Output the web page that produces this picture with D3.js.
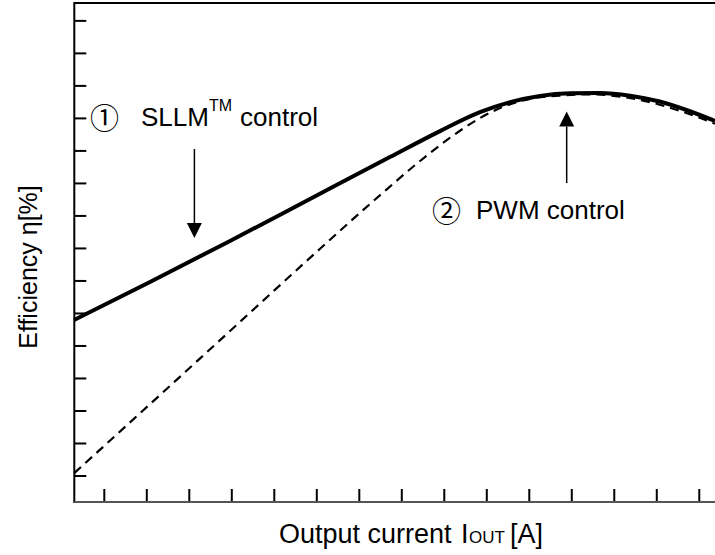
<!DOCTYPE html>
<html>
<head>
<meta charset="utf-8">
<script src="https://cdn.jsdelivr.net/npm/d3@7"></script>
<style>
  html, body { margin: 0; padding: 0; background: #fff; }
  svg { display: block; }
  text { font-family: "Liberation Sans", Arial, Helvetica, sans-serif; fill: #000; }
</style>
</head>
<body>
<svg id="chart" width="715" height="555"></svg>
<script>
// Efficiency curve, SLLM control (solid): output current and efficiency in tick units
const sllmCurrent = [0.294, 2.075, 3.958, 5.84, 7.72, 8.90, 9.84, 10.55, 11.25, 11.96, 12.66, 13.37, 14.07, 14.78, 15.37];
const sllmEfficiency = [5.80, 6.97, 8.23, 9.52, 10.81, 11.61, 12.19, 12.50, 12.69, 12.77, 12.78, 12.70, 12.52, 12.22, 11.92];

// Efficiency curve, PWM control (dashed)
const pwmCurrent = [0.294, 2.075, 3.958, 5.84, 7.49, 8.43, 9.13, 9.84, 10.43, 11.02, 11.72, 12.43, 13.14, 13.84, 14.55, 15.37];
const pwmEfficiency = [1.09, 3.21, 5.46, 7.71, 9.64, 10.69, 11.40, 12.01, 12.38, 12.60, 12.70, 12.74, 12.67, 12.50, 12.23, 11.84];

// Unlabelled tick positions
const xTicks = d3.range(1, 16);
const yTicks = d3.range(1, 16);

// Arrow annotations: [current, tail efficiency, tip efficiency]
const arrowSllm = [3.12, 11.06, 8.32];
const arrowPwm = [11.88, 10.01, 12.21];

(function draw() {
  const svg = d3.select("#chart");
  const left = 74.3, right = 715, topEdge = 3, bottomEdge = 502;

  const x = d3.scaleLinear().domain([0.294, 15.37]).range([left, right]);
  const y = d3.scaleLinear().domain([0.2, 15.55]).range([bottomEdge, topEdge]);

  // Ticks (inward)
  svg.append("g").selectAll("line").data(xTicks).join("line")
    .attr("x1", d => x(d)).attr("x2", d => x(d))
    .attr("y1", bottomEdge).attr("y2", bottomEdge - 13)
    .attr("stroke", "#000").attr("stroke-width", 2);

  svg.append("g").selectAll("line").data(yTicks).join("line")
    .attr("x1", left).attr("x2", left + 12)
    .attr("y1", d => y(d)).attr("y2", d => y(d))
    .attr("stroke", "#000").attr("stroke-width", 2);

  // Frame
  svg.append("line").attr("x1", left).attr("x2", right).attr("y1", topEdge).attr("y2", topEdge)
    .attr("stroke", "#000").attr("stroke-width", 2);
  svg.append("line").attr("x1", left).attr("x2", left).attr("y1", topEdge - 1).attr("y2", bottomEdge + 1)
    .attr("stroke", "#000").attr("stroke-width", 2);
  svg.append("line").attr("x1", left).attr("x2", right).attr("y1", bottomEdge).attr("y2", bottomEdge)
    .attr("stroke", "#555").attr("stroke-width", 2);

  // Curves
  const line = d3.line().x(d => x(d[0])).y(d => y(d[1])).curve(d3.curveMonotoneX);

  svg.append("path")
    .datum(d3.zip(pwmCurrent, pwmEfficiency))
    .attr("d", line)
    .attr("fill", "none").attr("stroke", "#000")
    .attr("stroke-width", 2.2).attr("stroke-dasharray", "9,6");

  svg.append("path")
    .datum(d3.zip(sllmCurrent, sllmEfficiency))
    .attr("d", line)
    .attr("fill", "none").attr("stroke", "#000")
    .attr("stroke-width", 4);

  // Arrows
  function arrow(a) {
    const ax = x(a[0]), y0 = y(a[1]), y1 = y(a[2]);
    const dir = y1 > y0 ? 1 : -1;
    const head = 15, half = 7.5;
    svg.append("line").attr("x1", ax).attr("x2", ax)
      .attr("y1", y0).attr("y2", y1 - dir * head)
      .attr("stroke", "#000").attr("stroke-width", 1.5);
    svg.append("path")
      .attr("d", `M${ax},${y1} L${ax - half},${y1 - dir * head} L${ax + half},${y1 - dir * head} Z`)
      .attr("fill", "#000");
  }
  arrow(arrowSllm);
  arrow(arrowPwm);

  // Labels
  const circ = '"Noto Sans CJK JP", "DejaVu Sans", sans-serif';
  svg.append("text").attr("x", 90).attr("y", 128.5).attr("font-size", 29)
    .style("font-family", circ).text("①");
  const t1 = svg.append("text").attr("x", 141).attr("y", 126).attr("font-size", 26);
  t1.append("tspan").text("SLLM");
  t1.append("tspan").attr("dy", -15).attr("font-size", 16).text("TM");
  t1.append("tspan").attr("x", 240).attr("dy", 15).text("control");

  svg.append("text").attr("x", 432).attr("y", 222).attr("font-size", 29)
    .style("font-family", circ).text("②");
  svg.append("text").attr("x", 476).attr("y", 219).attr("font-size", 26).text("PWM control");

  // Axis titles
  const xt = svg.append("text").attr("y", 543).attr("font-size", 27);
  xt.append("tspan").attr("x", 279).text("Output current");
  xt.append("tspan").attr("x", 461).text("I");
  xt.append("tspan").attr("x", 469).attr("font-size", 17).text("OUT");
  xt.append("tspan").attr("x", 510).text("[A]");

  svg.append("text")
    .attr("transform", "translate(37,267) rotate(-90)")
    .attr("text-anchor", "middle").attr("font-size", 25)
    .text("Efficiency η[%]");
})();
</script>
</body>
</html>
